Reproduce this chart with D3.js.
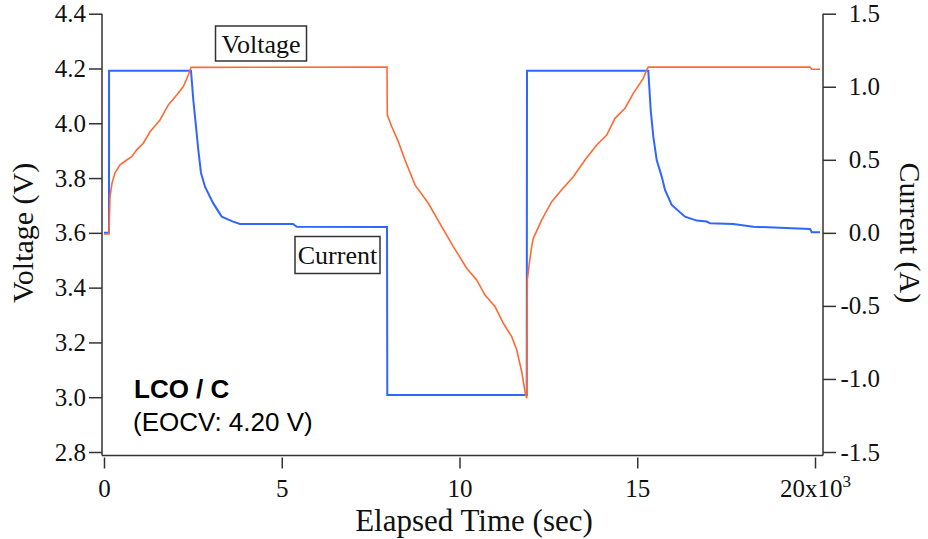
<!DOCTYPE html>
<html>
<head>
<meta charset="utf-8">
<script src="https://cdn.jsdelivr.net/npm/d3@7"></script>
<style>
  body { margin: 0; background: #fff; }
  svg { display: block; }
</style>
</head>
<body>
<svg id="chart" width="928" height="539"></svg>
<script>
// ---- data ----
const timeTicks = [0, 5000, 10000, 15000, 20000];
const voltageTicks = [2.8, 3.0, 3.2, 3.4, 3.6, 3.8, 4.0, 4.2, 4.4];
const currentTicks = [-1.5, -1.0, -0.5, 0.0, 0.5, 1.0, 1.5];

// Voltage (V) vs elapsed time (s)
const voltageTime = [0, 141, 169, 225, 309, 450, 639, 779, 920, 1106, 1294, 1575, 1809, 2045, 2231, 2371, 2447,
  7961, 7969, 8093, 8279, 8467, 8748, 9123, 9500, 9826, 10203, 10484, 10718, 10999, 11233, 11469, 11609, 11750, 11843, 11891,
  11908, 11964, 12031, 12076, 12313, 12594, 12875, 13201, 13530, 13859, 14141, 14374, 14656, 14889, 15170, 15266, 15311,
  19860, 19907, 20141];
const voltageValues = [3.596, 3.596, 3.732, 3.781, 3.819, 3.848, 3.866, 3.878, 3.903, 3.927, 3.969, 4.012, 4.067, 4.103, 4.134, 4.176, 4.204,
  4.205, 4.030, 3.988, 3.933, 3.866, 3.775, 3.708, 3.623, 3.550, 3.471, 3.428, 3.373, 3.331, 3.270, 3.221, 3.173, 3.093, 3.020, 2.996,
  3.428, 3.489, 3.550, 3.580, 3.647, 3.714, 3.757, 3.805, 3.866, 3.921, 3.957, 4.018, 4.055, 4.109, 4.164, 4.195, 4.205,
  4.205, 4.197, 4.197];

// Current (A) vs elapsed time (s)
const currentTime = [0, 141, 142, 2447, 2512, 2588, 2653, 2729, 2841, 3066, 3311, 3629, 3826, 5317, 5421, 7961,
  7969, 11891, 11899, 15311, 15378, 15452, 15547, 15688, 15781, 15969, 16343, 16673, 16954, 17047, 17702, 18265, 19345, 19860, 19907, 20141];
const currentValues = [0.0, 0.0, 1.11, 1.11, 0.91, 0.727, 0.567, 0.41, 0.316, 0.205, 0.111, 0.077, 0.061, 0.061, 0.042, 0.040,
  -1.11, -1.11, 1.11, 1.11, 0.841, 0.658, 0.498, 0.385, 0.294, 0.191, 0.111, 0.084, 0.077, 0.066, 0.061, 0.042, 0.031, 0.027, 0.004, 0.004];

// ---- chart ----
const svg = d3.select("#chart");
const serif = "'Liberation Serif', 'Times New Roman', serif";
const sans = "'Liberation Sans', Arial, sans-serif";
const axisColor = "#333";
const plotLeft = 102, plotRight = 823, plotTop = 13.7, plotBottom = 452;
const frameBottom = 455.5;

const x = d3.scaleLinear().domain([0, 20000]).range([104, 815]);
const yV = d3.scaleLinear().domain([2.8, 4.4]).range([plotBottom, plotTop]);
const yI = d3.scaleLinear().domain([-1.5, 1.5]).range([plotBottom, plotTop]);

// frame lines
svg.append("line").attr("x1", plotLeft).attr("x2", plotLeft).attr("y1", plotTop).attr("y2", frameBottom)
  .attr("stroke", axisColor).attr("stroke-width", 1.5);
svg.append("line").attr("x1", plotRight).attr("x2", plotRight).attr("y1", plotTop).attr("y2", frameBottom)
  .attr("stroke", axisColor).attr("stroke-width", 1.5);
svg.append("line").attr("x1", plotLeft).attr("x2", plotRight).attr("y1", frameBottom).attr("y2", frameBottom)
  .attr("stroke", axisColor).attr("stroke-width", 1.5);

function styleAxis(g) {
  g.attr("font-family", serif).attr("font-size", 25);
  g.select(".domain").remove();
  g.selectAll(".tick line").attr("stroke", axisColor).attr("stroke-width", 1.5);
  g.selectAll(".tick text").attr("fill", "#111");
}

// left axis
const gL = svg.append("g").attr("transform", `translate(${plotLeft},0)`)
  .call(d3.axisLeft(yV).tickValues(voltageTicks).tickSize(13).tickPadding(3).tickFormat(d => d.toFixed(1)));
styleAxis(gL);

// right axis
const gR = svg.append("g").attr("transform", `translate(${plotRight},0)`)
  .call(d3.axisRight(yI).tickValues(currentTicks).tickSize(13).tickFormat(d => d.toFixed(1)));
styleAxis(gR);
gR.selectAll(".tick text").attr("text-anchor", "end").attr("x", 57);

// bottom axis
const gB = svg.append("g").attr("transform", `translate(0,${frameBottom + 2})`)
  .call(d3.axisBottom(x).tickValues(timeTicks).tickSize(11).tickPadding(11).tickFormat(d => d === 20000 ? "" : String(d / 1000)));
styleAxis(gB);
gB.selectAll(".tick").filter(d => d === 20000).select("text")
  .each(function () {
    const t = d3.select(this);
    t.append("tspan").text("20x10");
    t.append("tspan").text("3").attr("font-size", 17).attr("dy", "-0.6em");
  });

// axis titles
svg.append("text").attr("transform", `translate(33,${(plotTop + plotBottom) / 2}) rotate(-90)`)
  .attr("text-anchor", "middle").attr("font-family", serif).attr("font-size", 30).attr("fill", "#111").text("Voltage (V)");
svg.append("text").attr("transform", `translate(900,${(plotTop + plotBottom) / 2}) rotate(90)`)
  .attr("text-anchor", "middle").attr("font-family", serif).attr("font-size", 30).attr("fill", "#111").text("Current (A)");
svg.append("text").attr("x", 474).attr("y", 531)
  .attr("text-anchor", "middle").attr("font-family", serif).attr("font-size", 31).attr("fill", "#111").text("Elapsed Time (sec)");

// lines
const lineV = d3.line().x((d, i) => x(voltageTime[i])).y(d => yV(d));
const lineI = d3.line().x((d, i) => x(currentTime[i])).y(d => yI(d));

svg.append("path").datum(currentValues).attr("d", lineI)
  .attr("fill", "none").attr("stroke", "#2f66ff").attr("stroke-width", 2);
svg.append("path").datum(voltageValues).attr("d", lineV)
  .attr("fill", "none").attr("stroke", "#ff6a33").attr("stroke-width", 1.6);

// annotation boxes
function box(cx, cy, w, h, label) {
  svg.append("rect").attr("x", cx - w / 2).attr("y", cy - h / 2).attr("width", w).attr("height", h)
    .attr("fill", "#fff").attr("stroke", "#333").attr("stroke-width", 1.5);
  svg.append("text").attr("x", cx).attr("y", cy + 9).attr("text-anchor", "middle")
    .attr("font-family", serif).attr("font-size", 26).attr("fill", "#111").text(label);
}
box(261, 43.5, 91, 35, "Voltage");
box(337.5, 255, 85, 37, "Current");

// sample label
svg.append("text").attr("x", 134).attr("y", 398).attr("font-family", sans)
  .attr("font-size", 26).attr("font-weight", "bold").attr("fill", "#000").text("LCO / C");
svg.append("text").attr("x", 133).attr("y", 431).attr("font-family", sans)
  .attr("font-size", 26).attr("fill", "#000").text("(EOCV: 4.20 V)");
</script>
</body>
</html>
